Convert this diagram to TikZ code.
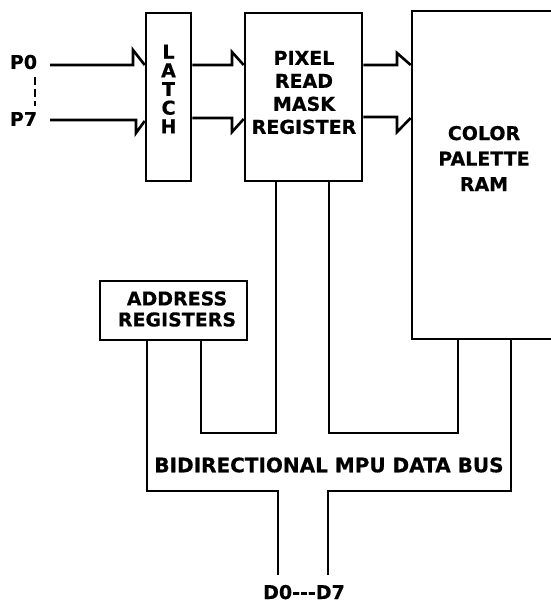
\documentclass[tikz,border=0pt]{standalone}
\usepackage{fontspec}
\setmainfont{DejaVu Sans}[BoldFeatures={FakeBold=0.5}]
\usepackage{tikz}
\usetikzlibrary{positioning}

\newcommand{\chipfont}[2][19]{\fontsize{#1}{#2}\selectfont\bfseries}

\tikzset{
  chipbox/.style={draw, line width=2.6pt, inner sep=0pt},
  chiplabel/.style={inner sep=0pt, align=center},
  wire/.style={line width=2.6pt, line join=miter},
}

\begin{document}
\begin{tikzpicture}[x=1pt, y=-1pt]
  \useasboundingbox (0,0) rectangle (550,603);

  % blocks
  \node[chipbox, minimum width=45pt, minimum height=168pt] (latch) at (168.5,97) {};
  \node[chipbox, minimum width=117pt, minimum height=168pt] (mask) at (303.5,97) {};
  \node[chipbox, minimum width=144pt, minimum height=328pt] (ram) at (484,175) {};
  \node[chipbox, minimum width=147pt, minimum height=59pt] (addr) at (173.5,310.5) {};

  % block texts
  \node[chiplabel, font=\chipfont{18.7}] (latchtext) at (168.5,89) {L\\A\\T\\C\\H};
  \node[chiplabel, font=\chipfont{23}] (masktext) at (304,92.5) {PIXEL\\READ\\MASK\\REGISTER};
  \node[chiplabel, font=\chipfont{25.5}] (ramtext) at (484,158.5) {COLOR\\PALETTE\\RAM};
  \node[chiplabel, font=\chipfont{21}] (addrtext) at (177,309) {ADDRESS\\REGISTERS};

  % pixel inputs
  \node[chiplabel, font=\chipfont{23}] (p0) at (23.5,62) {P0};
  \node[chiplabel, font=\chipfont{23}] (p7) at (23.5,119) {P7};
  \draw[wire, dashed, dash pattern=on 8pt off 4pt] ([yshift=-8pt]p0.south -| 35,0) -- ([yshift=6pt]p7.north -| 35,0);

  % bus entries into latch, mask and ram
  \draw[wire] (50,65) -- (133,65) -- (133,50) -- (latch.west |- 0,65);
  \draw[wire] (50,120) -- (136,120) -- (136,133) -- (latch.west |- 0,121);
  \draw[wire] (latch.east |- 0,65) -- (232,65) -- (232,52) -- (mask.west |- 0,65);
  \draw[wire] (latch.east |- 0,118) -- (232,118) -- (232,132) -- (mask.west |- 0,119);
  \draw[wire] (mask.east |- 0,65) -- (397,65) -- (397,53) -- (ram.west |- 0,65);
  \draw[wire] (mask.east |- 0,117) -- (397,117) -- (397,132) -- (ram.west |- 0,118);

  % data bus
  \coordinate (d0) at (278,575);
  \coordinate (d7) at (328,575);
  \draw[wire] (addr.south -| 147,0) -- (147,491) -- (278,491) -- (d0);
  \draw[wire] (addr.south -| 201,0) -- (201,433) -- (276,433) -- (mask.south -| 276,0);
  \draw[wire] (mask.south -| 329,0) -- (329,433) -- (458,433) -- (ram.south -| 458,0);
  \draw[wire] (ram.south -| 511,0) -- (511,491) -- (328,491) -- (d7);

  \node[chiplabel, font={\chipfont[20]{23}}] (bustext) at (329,465) {BIDIRECTIONAL MPU DATA BUS};
  \node[chiplabel, font=\chipfont{23}, anchor=base] (dtext) at (304,599) {D0-{}-{}-D7};
\end{tikzpicture}
\end{document}
